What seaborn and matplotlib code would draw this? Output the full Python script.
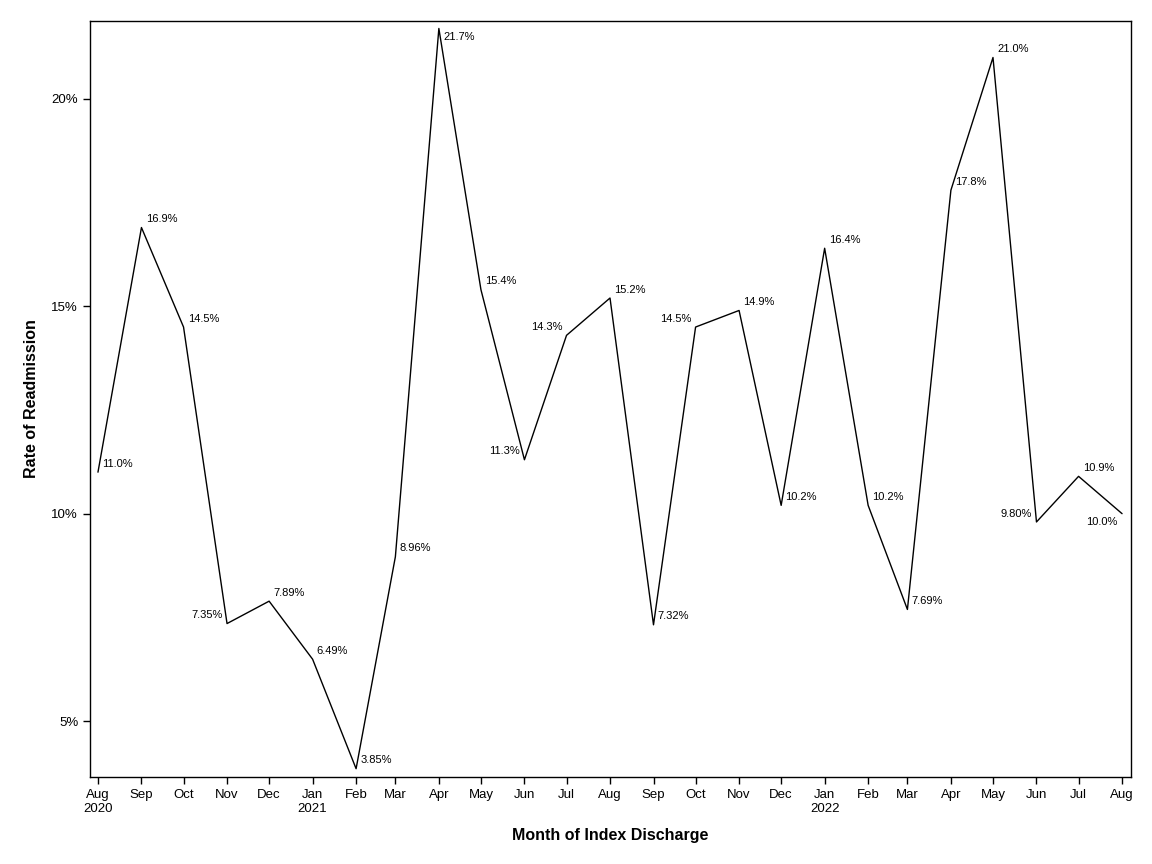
import pandas as pd
import matplotlib
matplotlib.use("Agg")
import matplotlib.pyplot as plt
import matplotlib.dates as mdates
from matplotlib.ticker import FuncFormatter
import seaborn as sns

# data
months = pd.date_range("2020-08-01", "2022-08-01", freq="MS")
rates = [11.0, 16.9, 14.5, 7.35, 7.89, 6.49, 3.85, 8.96, 21.7, 15.4, 11.3, 14.3, 15.2,
         7.32, 14.5, 14.9, 10.2, 16.4, 10.2, 7.69, 17.8, 21.0, 9.80, 10.9, 10.0]
labels = ["11.0%", "16.9%", "14.5%", "7.35%", "7.89%", "6.49%", "3.85%", "8.96%", "21.7%",
          "15.4%", "11.3%", "14.3%", "15.2%", "7.32%", "14.5%", "14.9%", "10.2%", "16.4%",
          "10.2%", "7.69%", "17.8%", "21.0%", "9.80%", "10.9%", "10.0%"]
# where each point label sits: r = right/above, l = left/above, br/bl = below
label_side = ["r", "r", "r", "l", "r", "r", "r", "r", "br", "r", "l", "l", "r",
              "r", "l", "r", "r", "r", "r", "r", "r", "r", "l", "r", "bl"]
tick_labels = ["Aug\n2020", "Sep", "Oct", "Nov", "Dec", "Jan\n2021", "Feb", "Mar", "Apr",
               "May", "Jun", "Jul", "Aug", "Sep", "Oct", "Nov", "Dec", "Jan\n2022", "Feb",
               "Mar", "Apr", "May", "Jun", "Jul", "Aug"]
y_ticks = [5, 10, 15, 20]

df = pd.DataFrame({"month": months, "rate": rates})

sns.set_style("ticks")
plt.rcParams["font.family"] = ["Liberation Sans", "DejaVu Sans"]
plt.rcParams["text.color"] = "black"
plt.rcParams["axes.labelcolor"] = "black"
plt.rcParams["xtick.color"] = "black"
plt.rcParams["ytick.color"] = "black"

fig = plt.figure(figsize=(11.52, 8.64), dpi=100)
ax = fig.add_axes([0.0781, 0.1007, 0.9037, 0.875])

sns.lineplot(data=df, x="month", y="rate", color="black", linewidth=1, ax=ax)

offsets = {"r": ((3, 6), "left"), "l": ((-3, 6), "right"),
           "br": ((3, -6), "left"), "bl": ((-3, -6), "right")}
for m, v, t, s in zip(months, rates, labels, label_side):
    off, ha = offsets[s]
    ax.annotate(t, (mdates.date2num(m), v), xytext=off, textcoords="offset points",
                ha=ha, va="center", fontsize=8)

ax.set_xlim(mdates.date2num(months[0]) - 5.7, mdates.date2num(months[-1]) + 6.4)
ax.set_ylim(3.65, 21.88)
ax.set_xticks(mdates.date2num(months))
ax.set_xticklabels(tick_labels, fontsize=9.5)
ax.set_yticks(y_ticks)
ax.yaxis.set_major_formatter(FuncFormatter(lambda v, p: f"{v:.0f}%"))
ax.tick_params(axis="y", labelsize=9.5, length=5, width=1)
ax.tick_params(axis="x", length=5, width=1)

for sp in ax.spines.values():
    sp.set_visible(True)
    sp.set_linewidth(1)
    sp.set_color("black")

ax.set_xlabel("Month of Index Discharge", fontsize=11.5, fontweight="bold", labelpad=10)
ax.set_ylabel("Rate of Readmission", fontsize=11.5, fontweight="bold", labelpad=9)

fig.savefig("out.png", dpi=100)
